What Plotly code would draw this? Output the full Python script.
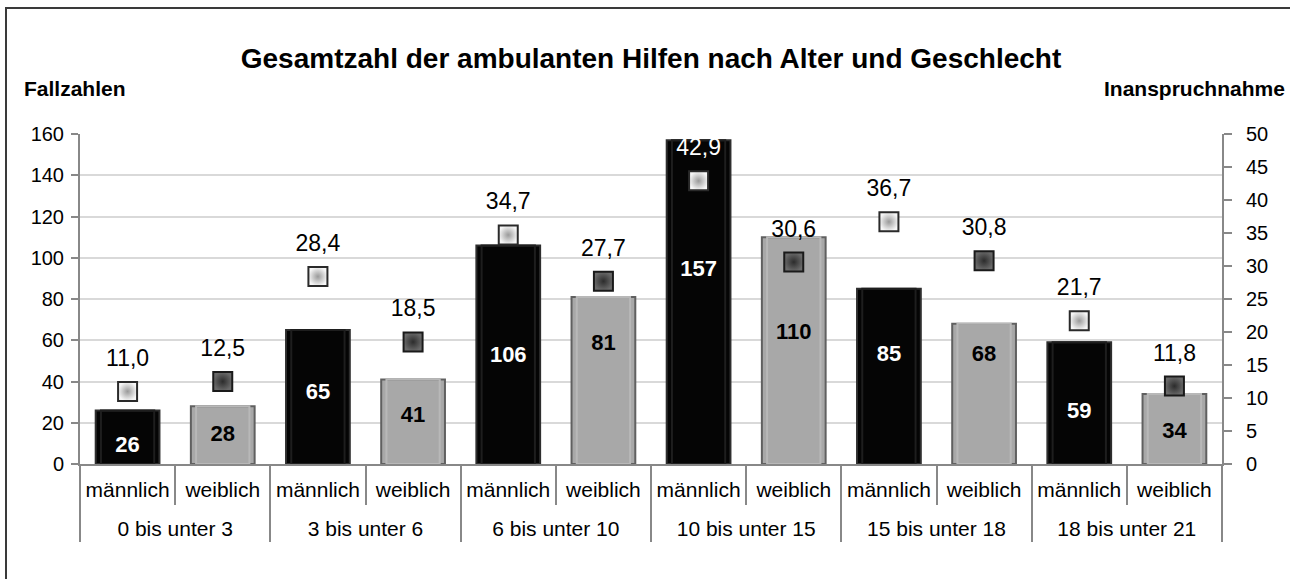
import plotly.graph_objects as go

# ---------------- data ----------------
groups = ["0 bis unter 3", "3 bis unter 6", "6 bis unter 10",
          "10 bis unter 15", "15 bis unter 18", "18 bis unter 21"]
genders = ["männlich", "weiblich"]
fall_m = [26, 65, 106, 157, 85, 59]
fall_w = [28, 41, 81, 110, 68, 34]
quote_m = [11.0, 28.4, 34.7, 42.9, 36.7, 21.7]
quote_w = [12.5, 18.5, 27.7, 30.6, 30.8, 11.8]

# label placement inside the bars (left-axis units)
bar_label_pos = [8.7, 13.6, 34.4, 22.8, 51.9, 57.7, 94, 63.5, 52.4, 52.4, 25.2, 15.5]

# ---------------- build ----------------
inner, fall, quote = [], [], []
for i, g in enumerate(groups):
    for j, s in enumerate(genders):
        inner.append(s)
        fall.append(fall_m[i] if j == 0 else fall_w[i])
        quote.append(quote_m[i] if j == 0 else quote_w[i])
n = len(inner)
pos = list(range(n))                       # category slots
group_pos = [2 * i + 0.5 for i in range(len(groups))]
is_m = [s == "männlich" for s in inner]

FONT = "Liberation Sans, Arial, sans-serif"
GRAY = "#888888"
bar_col = ["#050505" if m else "#a8a8a8" for m in is_m]
bar_line = ["#2e2e2e" if m else "#606060" for m in is_m]

fig = go.Figure()
fig.add_trace(go.Bar(
    x=pos, y=fall, width=0.67,
    marker=dict(color=bar_col, line=dict(color=bar_line, width=2)),
    showlegend=False, hoverinfo="skip"))

# inner bevel approximation
fig.add_trace(go.Bar(
    x=pos, y=fall, width=0.56,
    marker=dict(color="rgba(0,0,0,0)",
                line=dict(color=["#1e1e1e" if m else "#b8b8b8" for m in is_m], width=2)),
    showlegend=False, hoverinfo="skip"))

# bar value labels
fig.add_trace(go.Scatter(
    x=pos, y=bar_label_pos, mode="text",
    text=[f"<b>{v}</b>" for v in fall],
    textfont=dict(family=FONT, size=22, color=["white" if m else "black" for m in is_m]),
    textposition="middle center",
    showlegend=False, hoverinfo="skip", cliponaxis=False))

# markers on secondary axis
fig.add_trace(go.Scatter(
    x=pos, y=quote, yaxis="y2", mode="markers",
    marker=dict(symbol="square", size=19,
                color=["#f6f6f6" if m else "#6a6a6a" for m in is_m],
                gradient=dict(type="radial",
                              color=["#9a9a9a" if m else "#2c2c2c" for m in is_m]),
                line=dict(color=["#2a2a2a" if m else "#1a1a1a" for m in is_m], width=2)),
    showlegend=False, hoverinfo="skip", cliponaxis=False))

# marker value labels (transparent larger marker sets the gap)
fig.add_trace(go.Scatter(
    x=pos, y=quote, yaxis="y2", mode="markers+text",
    marker=dict(symbol="square", size=30, color="rgba(0,0,0,0)"),
    text=[f"{v:.1f}".replace(".", ",") for v in quote],
    textposition="top center",
    textfont=dict(family=FONT, size=23,
                  color=["white" if (m and f > 140) else "black" for m, f in zip(is_m, fall)]),
    showlegend=False, hoverinfo="skip", cliponaxis=False))

# dummy trace to activate the group-label axis
fig.add_trace(go.Scatter(x=group_pos, y=[None] * len(groups), xaxis="x2",
                         showlegend=False, hoverinfo="skip"))

fig.update_layout(
    width=1290, height=579,
    margin=dict(l=80, r=68, t=134, b=115, autoexpand=False),
    paper_bgcolor="white", plot_bgcolor="white",
    font=dict(family=FONT, color="black", size=20),
    barmode="overlay",
    title=dict(text="<b>Gesamtzahl der ambulanten Hilfen nach Alter und Geschlecht</b>",
               x=0.5, xref="paper", xanchor="center",
               y=1 - 58 / 579, yref="container", yanchor="middle",
               font=dict(family=FONT, size=28, color="black")),
    xaxis=dict(range=[-0.5, n - 0.5], showgrid=False, zeroline=False, automargin=False,
               tickmode="array", tickvals=pos, ticktext=inner, tickangle=0,
               ticks="", ticklabelstandoff=6,
               minor=dict(tickmode="linear", tick0=-0.5, dtick=1, ticks="outside",
                          ticklen=39, tickwidth=2, tickcolor=GRAY, showgrid=False),
               showline=True, linecolor=GRAY, linewidth=2,
               tickfont=dict(family=FONT, size=21, color="black")),
    xaxis2=dict(range=[-0.5, n - 0.5], overlaying="x", anchor="y", side="bottom",
                showgrid=False, zeroline=False, automargin=False,
                tickmode="array", tickvals=group_pos, ticktext=groups, tickangle=0,
                ticks="", ticklabelstandoff=50,
                minor=dict(tickmode="linear", tick0=-0.5, dtick=2, ticks="outside",
                           ticklen=77, tickwidth=2, tickcolor=GRAY, showgrid=False),
                showline=False,
                tickfont=dict(family=FONT, size=21, color="black")),
    yaxis=dict(range=[0, 160], dtick=20, showgrid=True, gridcolor="#d9d9d9", gridwidth=1.5,
               showline=True, linecolor=GRAY, linewidth=2, automargin=False,
               ticks="outside", ticklen=7, tickcolor=GRAY, tickwidth=2,
               ticklabelstandoff=3,
               tickfont=dict(family=FONT, size=20, color="black"), zeroline=False),
    yaxis2=dict(range=[0, 50], dtick=5, overlaying="y", side="right", showgrid=False,
                showline=True, linecolor=GRAY, linewidth=2, automargin=False,
                ticks="outside", ticklen=8, tickcolor=GRAY, tickwidth=2,
                ticklabelstandoff=10,
                tickfont=dict(family=FONT, size=20, color="black"), zeroline=False),
    annotations=[
        dict(text="<b>Fallzahlen</b>", xref="paper", yref="paper",
             x=(22 - 80) / 1142, y=(464 - 89) / 330, xanchor="left", yanchor="middle",
             showarrow=False, font=dict(family=FONT, size=21, color="black")),
        dict(text="<b>Inanspruchnahme</b>", xref="paper", yref="paper",
             x=(1287 - 80) / 1142, y=(464 - 89) / 330, xanchor="right", yanchor="middle",
             showarrow=False, font=dict(family=FONT, size=21, color="black")),
    ],
    shapes=[dict(type="rect", xref="paper", yref="paper",
                 x0=(6 - 80) / 1142, x1=(1320 - 80) / 1142,
                 y0=(464 - 620) / 330, y1=(464 - 8) / 330,
                 line=dict(color="#3a3a3a", width=2), fillcolor="rgba(0,0,0,0)",
                 layer="below")],
)

fig.write_html("out.html", config={"displayModeBar": False},
               post_script="document.body.style.margin='0px';")
